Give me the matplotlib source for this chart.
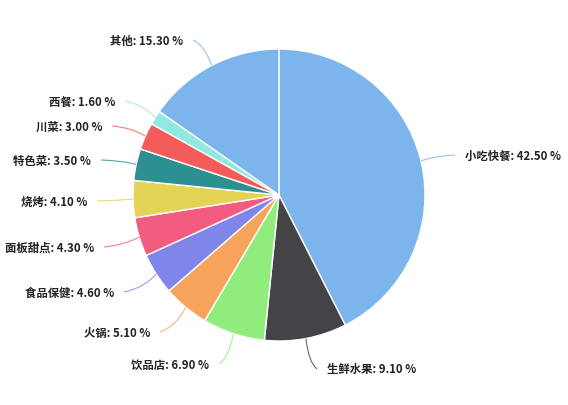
import matplotlib
matplotlib.use("Agg")
import matplotlib.pyplot as plt
from matplotlib.path import Path
from matplotlib.patches import PathPatch
import numpy as np

plt.rcParams['font.family'] = ['Noto Sans CJK SC', 'DejaVu Sans']

# ---- data ----
categories = ['小吃快餐', '生鲜水果', '饮品店', '火锅', '食品保健', '面板甜点',
              '烧烤', '特色菜', '川菜', '西餐', '其他']
values = [42.5, 9.1, 6.9, 5.1, 4.6, 4.3, 4.1, 3.5, 3.0, 1.6, 15.3]

# ---- style / layout ----
colors = ['#7cb5ec', '#434348', '#90ed7d', '#f7a35c', '#8085e9', '#f15c80',
          '#e4d354', '#2b908f', '#f45b5b', '#91e8e1', '#7cb5ec']
W, H = 568, 406
cx, cy_img, R = 279, 196, 146
# label connector end points (image pixel coords, y down)
label_pos = [(455, 156), (317, 370), (219, 365), (160, 333), (124, 293), (104, 248),
             (97, 202), (101, 161), (112, 127), (125, 102), (193, 41)]

fig = plt.figure(figsize=(W / 100, H / 100), dpi=100)
ax = fig.add_axes([0, 0, 1, 1])
ax.set_xlim(0, W)
ax.set_ylim(0, H)
ax.axis('off')

cy = H - cy_img
wedges, _ = ax.pie(values, colors=colors, startangle=90, counterclock=False,
                   center=(cx, cy), radius=R,
                   wedgeprops=dict(edgecolor='white', linewidth=1.0))
ax.set_xlim(0, W)
ax.set_ylim(0, H)

total = sum(values)
cum = 0.0
for name, v, col, (lx, ly) in zip(categories, values, colors, label_pos):
    mid = (cum + v / 2) / total * 2 * np.pi
    cum += v
    dx, dy = np.sin(mid), np.cos(mid)
    ex, ey = cx + R * dx, cy + R * dy
    lyd = H - ly
    ctrl = (cx + (R + 14) * dx, lyd + 0.4 * (cy + (R + 14) * dy - lyd))
    path = Path([(ex, ey), ctrl, (lx, lyd)], [Path.MOVETO, Path.CURVE3, Path.CURVE3])
    ax.add_patch(PathPatch(path, fill=False, edgecolor=col, lw=0.8, alpha=0.8))
    right = dx > 0
    ax.text(lx + (10 if right else -10), lyd, f'{name}: {v:.2f} %',
            ha='left' if right else 'right', va='center',
            fontsize=8.2, fontweight='bold', color='#222222')

fig.savefig('out.png', dpi=100)
